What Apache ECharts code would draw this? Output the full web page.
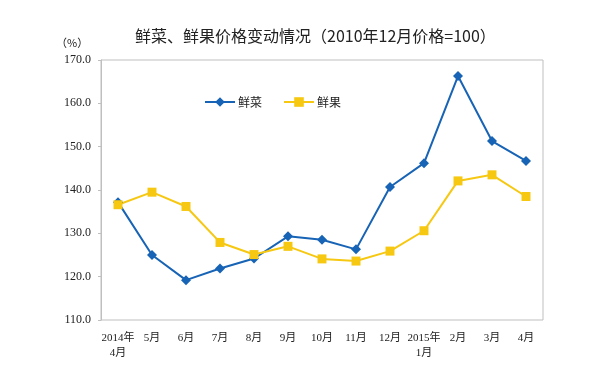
<!DOCTYPE html>
<html><head><meta charset="utf-8">
<script src="https://cdn.jsdelivr.net/npm/echarts@6/dist/echarts.min.js"></script>
<style>html,body{margin:0;padding:0;background:#fff}#c{width:610px;height:380px}</style>
</head><body><div id="c"></div>
<script>
var categories = ['2014年\n4月','5月','6月','7月','8月','9月','10月','11月','12月','2015年\n1月','2月','3月','4月'];
var vegetables = [137.2,125.0,119.2,121.9,124.2,129.3,128.5,126.3,140.7,146.2,166.3,151.3,146.7];
var fruits = [136.6,139.5,136.2,127.9,125.1,127.0,124.1,123.6,125.9,130.6,142.1,143.5,138.5];
var yTicks = {min:110, max:170, interval:10};
var serifFont = "'Liberation Serif','Noto Sans CJK SC',serif";
var chart = echarts.init(document.getElementById('c'));
chart.setOption({
  animation:false,
  backgroundColor:'#fff',
  title:{text:'鲜菜、鲜果价格变动情况（2010年12月价格=100）', left:130, top:23,
    textStyle:{fontSize:16, fontWeight:'normal', color:'#222', fontFamily:"'Noto Sans CJK SC',sans-serif"}},
  graphic:[{type:'text', left:56, top:37, style:{text:'（%）', fontSize:11, fill:'#222', fontFamily:"'Noto Sans CJK SC',sans-serif"}}],
  legend:{left:199, top:91, itemGap:21, itemWidth:30, itemHeight:12,
    textStyle:{fontSize:12, color:'#222', padding:[0,0,0,-2], fontFamily:"'Noto Sans CJK SC',sans-serif"},
    data:['鲜菜','鲜果']},
  grid:{left:101, right:67, top:60, bottom:60, show:true, borderColor:'#bfbfbf', borderWidth:1},
  xAxis:{type:'category', data:categories, boundaryGap:true,
    axisLine:{show:false}, axisTick:{show:false},
    axisLabel:{fontSize:11, color:'#222', margin:11, interval:0, lineHeight:15, fontFamily:serifFont}},
  yAxis:{type:'value', min:yTicks.min, max:yTicks.max, interval:yTicks.interval,
    splitLine:{show:false},
    axisLine:{show:true, lineStyle:{color:'#bfbfbf'}},
    axisTick:{show:true, length:3, lineStyle:{color:'#bfbfbf'}},
    axisLabel:{fontSize:12, color:'#222', margin:10, fontFamily:serifFont,
      formatter:function(v){return v.toFixed(1);}}},
  series:[
    {name:'鲜菜', type:'line', data:vegetables, symbol:'diamond', symbolSize:10,
      itemStyle:{color:'#1763b5'}, lineStyle:{width:2, color:'#1763b5'}},
    {name:'鲜果', type:'line', data:fruits, symbol:'rect', symbolSize:9,
      itemStyle:{color:'#f6c812'}, lineStyle:{width:2, color:'#f6c812'}}
  ]
});
</script></body></html>
